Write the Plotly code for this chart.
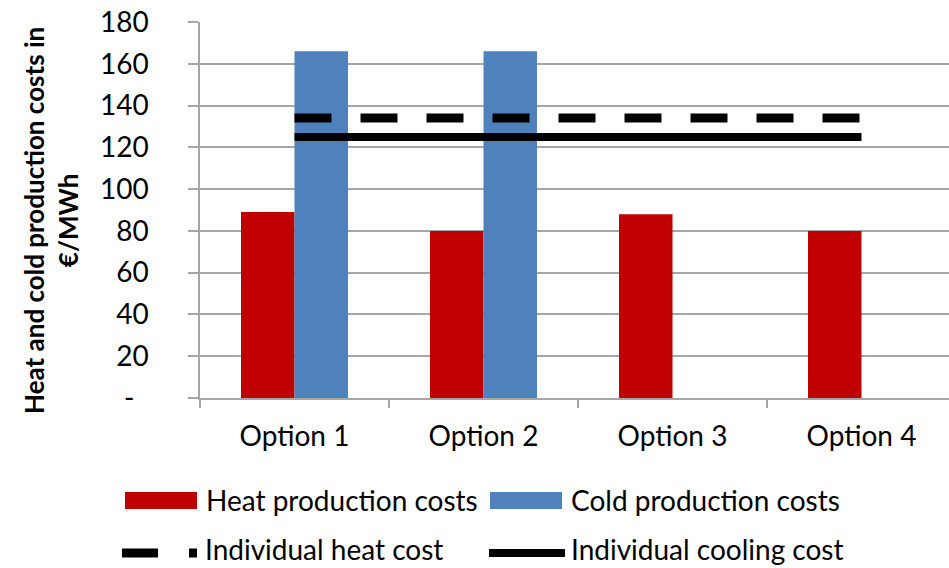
import plotly.graph_objects as go

# Cost data (EUR/MWh)
options = ["Option 1", "Option 2", "Option 3", "Option 4"]
heat_costs = [89, 80, 88, 80]
cold_costs = [166, 166, None, None]
individual_heat = [134, 134, 134, 134]
individual_cooling = [125, 125, 125, 125]

y_ticks = [0, 20, 40, 60, 80, 100, 120, 140, 160, 180]
y_labels = ["-\u00a0\u00a0", "20", "40", "60", "80", "100", "120", "140", "160", "180"]

RED = "#C00000"
BLUE = "#4F81BD"
GRID = "#A6A6A6"
FONT = "Lato, Carlito, Calibri, sans-serif"
SIZE = 28

W, H = 949, 568
L, R, T, B = 200, 0, 22, 170

fig = go.Figure()
fig.add_trace(go.Bar(x=options, y=heat_costs, name="Heat production costs",
                     marker=dict(color=RED, line=dict(width=0))))
fig.add_trace(go.Bar(x=options, y=cold_costs, name="Cold production costs",
                     marker=dict(color=BLUE, line=dict(width=0))))
fig.add_trace(go.Scatter(x=options, y=individual_heat, mode="lines",
                         name="Individual heat cost",
                         line=dict(color="black", width=9, dash="37px,29px")))
fig.add_trace(go.Scatter(x=options, y=individual_cooling, mode="lines",
                         name="Individual cooling cost",
                         line=dict(color="black", width=8)))


def px_x(px):
    return (px - L) / (W - L - R)


def px_y(py):
    return (H - B - py) / (H - T - B)


# Hand-built legend: swatches and line samples below the plot
shapes = [
    dict(type="rect", xref="paper", yref="paper", x0=px_x(125), x1=px_x(197),
         y0=px_y(509), y1=px_y(492), fillcolor=RED, line=dict(width=0)),
    dict(type="rect", xref="paper", yref="paper", x0=px_x(490), x1=px_x(562),
         y0=px_y(509), y1=px_y(492), fillcolor=BLUE, line=dict(width=0)),
    dict(type="line", xref="paper", yref="paper", x0=px_x(122), x1=px_x(197),
         y0=px_y(553), y1=px_y(553),
         line=dict(color="black", width=9, dash="36px,31px")),
    dict(type="line", xref="paper", yref="paper", x0=px_x(489), x1=px_x(565),
         y0=px_y(553), y1=px_y(553), line=dict(color="black", width=8)),
]

legend_text = [
    ("Heat production costs", 204, 500),
    ("Cold production costs", 569, 500),
    ("Individual heat cost", 203, 549),
    ("Individual cooling cost", 569, 549),
]
annotations = [
    dict(text=t, xref="paper", yref="paper", x=px_x(x), y=px_y(y),
         xanchor="left", yanchor="middle", showarrow=False,
         font=dict(family=FONT, size=SIZE, color="black"))
    for t, x, y in legend_text
]
annotations.append(dict(
    text="<b>Heat and cold production costs in<br>€/MWh</b>",
    xref="paper", yref="paper", x=px_x(51), y=px_y(221),
    xanchor="center", yanchor="middle", textangle=-90, showarrow=False,
    font=dict(family=FONT, size=26, color="black")))

fig.update_layout(
    width=W, height=H,
    margin=dict(l=L, r=R, t=T, b=B, pad=0),
    paper_bgcolor="white", plot_bgcolor="white",
    barmode="group", bargap=0.434, bargroupgap=0,
    showlegend=False,
    shapes=shapes, annotations=annotations,
    font=dict(family=FONT, size=SIZE, color="black"),
    xaxis=dict(type="category", range=[-0.5, 3.463], tickson="boundaries",
               ticks="outside", ticklen=8, tickcolor=GRID, tickwidth=1.5,
               showline=True, linecolor=GRID, linewidth=1.5,
               showgrid=False, ticklabelstandoff=13,
               tickfont=dict(family=FONT, size=SIZE, color="black")),
    yaxis=dict(range=[0, 180], tickmode="array", tickvals=y_ticks,
               ticktext=y_labels, ticks="outside", ticklen=10,
               tickcolor=GRID, tickwidth=1.5, showline=True, linecolor=GRID,
               linewidth=1.5, showgrid=True, gridcolor=GRID, gridwidth=1.5,
               zeroline=False, ticklabelstandoff=34,
               tickfont=dict(family=FONT, size=SIZE, color="black")),
)

fig.write_html("out.html")
